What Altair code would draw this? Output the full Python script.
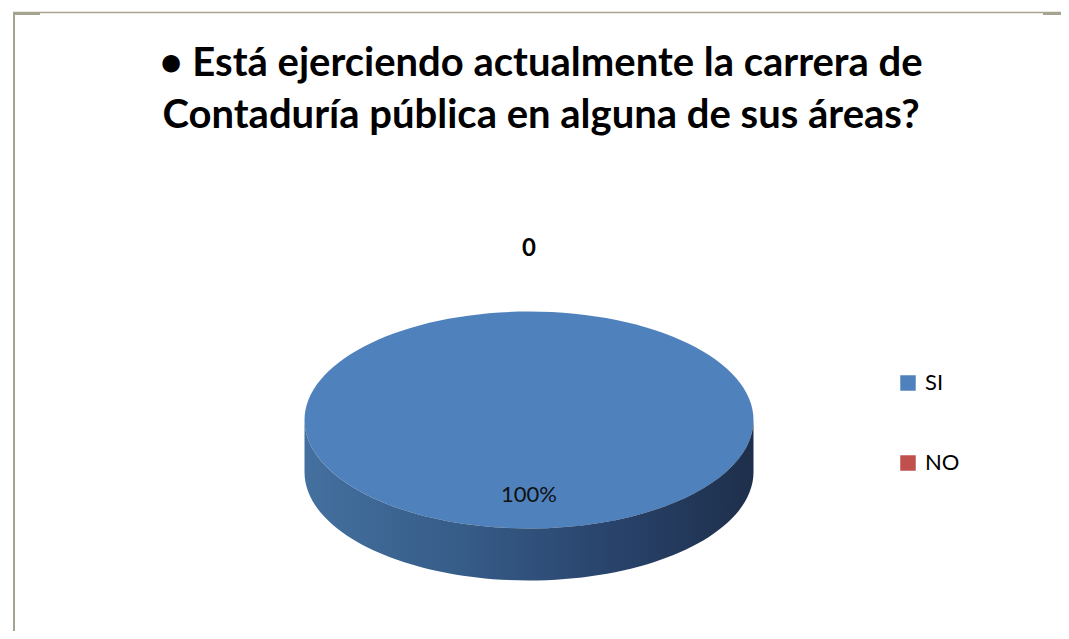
import altair as alt
import pandas as pd

# ---- data ----
categories = ["SI", "NO"]
values = [100, 0]
labels = ["100%", "0"]
colors = ["#4F81BD", "#C0504D"]
title_lines = [
    "• Está ejerciendo actualmente la carrera de",
    "Contaduría pública en alguna de sus áreas?",
]

df = pd.DataFrame({"category": categories, "value": values,
                   "label": labels, "order": list(range(len(categories)))})

# ---- layout (chart coordinates) ----
W, H = 1053, 623
CX, CY = 521, 412          # centre of the pie's top face
RX = 224.5                 # horizontal radius
K = 108.5 / RX             # vertical / horizontal ratio (tilt)
D = 52 / RX                # depth of the 3-D side
SIZE = (2 * RX) ** 2
FONT = "Lato"


def px(a):
    return f"(round(sin({a})*100000)/100000)"


def py(a, off=0.0):
    return f"(round((-{K:.6f}*cos({a})+{off:.6f})*100000)/100000)"


full_path = f"'M -1 0 A 1 {K:.5f} 0 1 1 1 0 A 1 {K:.5f} 0 1 1 -1 0 Z'"
wedge_path = (
    f"'M 0 0 L ' + {px('datum.a0')} + ' ' + {py('datum.a0')} + "
    f"' A 1 {K:.5f} 0 ' + (datum.a1 - datum.a0 > PI ? '1' : '0') + ' 1 ' + "
    f"{px('datum.a1')} + ' ' + {py('datum.a1')} + ' Z'"
)
top_expr = f"datum.a1 - datum.a0 > 2*PI - 0.000001 ? {full_path} : {wedge_path}"

side_expr = (
    f"datum.s1 > datum.s0 ? 'M ' + {px('datum.s0')} + ' ' + {py('datum.s0')} + "
    f"' L ' + {px('datum.s0')} + ' ' + {py('datum.s0', D)} + "
    f"' A 1 {K:.5f} 0 0 1 ' + {px('datum.s1')} + ' ' + {py('datum.s1', D)} + "
    f"' L ' + {px('datum.s1')} + ' ' + {py('datum.s1')} + "
    f"' A 1 {K:.5f} 0 0 0 ' + {px('datum.s0')} + ' ' + {py('datum.s0')} + ' Z' : 'M 0 0 Z'"
)

base = (
    alt.Chart(df)
    .transform_joinaggregate(total="sum(value)")
    .transform_window(cum="sum(value)", sort=[alt.SortField("order", order="ascending")])
    .transform_calculate(
        a0="2*PI*(datum.cum - datum.value)/datum.total",
        a1="2*PI*datum.cum/datum.total",
    )
    .transform_calculate(
        s0="max(datum.a0, PI/2)",
        s1="min(datum.a1, 3*PI/2)",
        mid="(datum.a0 + datum.a1)/2",
        r="datum.value > 0 ? 0.69 : 1.58",
    )
    .transform_calculate(
        lx=f"{CX} + {RX}*datum.r*sin(datum.mid)",
        ly=f"{CY} - {RX * K}*datum.r*cos(datum.mid)",
    )
)

side_grad = alt.Gradient(
    gradient="linear",
    stops=[
        alt.GradientStop(color="#44709F", offset=0),
        alt.GradientStop(color="#365C88", offset=0.35),
        alt.GradientStop(color="#28426A", offset=0.7),
        alt.GradientStop(color="#1E2F4B", offset=1),
    ],
    x1=0, x2=1, y1=0, y2=0,
)

side = (
    base.transform_filter("datum.value > 0")
    .transform_calculate(side_path=side_expr)
    .mark_point(filled=True, fill=side_grad, opacity=1, strokeWidth=0)
    .encode(
        x=alt.value(CX), y=alt.value(CY),
        shape=alt.Shape("side_path:N", scale=None),
        size=alt.value(SIZE),
    )
)

top = (
    base.transform_filter("datum.value > 0")
    .transform_calculate(top_path=top_expr)
    .mark_point(filled=True, opacity=1, strokeWidth=0)
    .encode(
        x=alt.value(CX), y=alt.value(CY),
        shape=alt.Shape("top_path:N", scale=None),
        size=alt.value(SIZE),
        color=alt.Color(
            "category:N",
            scale=alt.Scale(domain=categories, range=colors),
            legend=alt.Legend(
                title=None, orient="none", legendX=889, legendY=364,
                symbolType="square", symbolSize=240, symbolStrokeWidth=0,
                labelFont=FONT, labelFontSize=22, labelColor="#000000",
                labelOffset=6, rowPadding=58, padding=0,
            ),
        ),
    )
)

label_in = (
    base.transform_filter("datum.value > 0")
    .mark_text(font=FONT, fontSize=22, color="#111111", align="center", baseline="middle")
    .encode(x=alt.X("lx:Q", scale=None), y=alt.Y("ly:Q", scale=None), text="label:N")
)

label_out = (
    base.transform_filter("datum.value <= 0")
    .mark_text(font=FONT, fontSize=24, fontWeight="bold", color="#000000",
               align="center", baseline="middle")
    .encode(x=alt.X("lx:Q", scale=None), y=alt.Y("ly:Q", scale=None), text="label:N")
)

title_df = pd.DataFrame({"title": ["\n".join(title_lines)]})
title = (
    alt.Chart(title_df)
    .mark_text(font=FONT, fontSize=40, fontWeight="bold", color="#000000",
               align="center", baseline="alphabetic", lineBreak="\n", lineHeight=52)
    .encode(x=alt.value(533), y=alt.value(68), text="title:N")
)

frame_df = pd.DataFrame({"k": [0]})
frame_col = "#A6A391"
frame = alt.layer(
    alt.Chart(frame_df).mark_rule(color=frame_col, strokeWidth=2).encode(
        x=alt.value(6), y=alt.value(4), y2=alt.value(H)),
    alt.Chart(frame_df).mark_rule(color=frame_col, strokeWidth=1.5).encode(
        x=alt.value(5), x2=alt.value(W), y=alt.value(4.5)),
    alt.Chart(frame_df).mark_rule(color=frame_col, strokeWidth=3).encode(
        x=alt.value(5), x2=alt.value(32), y=alt.value(5.5)),
    alt.Chart(frame_df).mark_rule(color=frame_col, strokeWidth=3).encode(
        x=alt.value(1035), x2=alt.value(W), y=alt.value(5.5)),
)

chart = (
    alt.layer(frame, title, label_out, top, side, label_in)
    .properties(width=W, height=H, autosize="none", padding=0, background="#FFFFFF")
    .configure_view(stroke=None)
)

chart.save("out.html", embed_options={"renderer": "svg", "actions": False})
